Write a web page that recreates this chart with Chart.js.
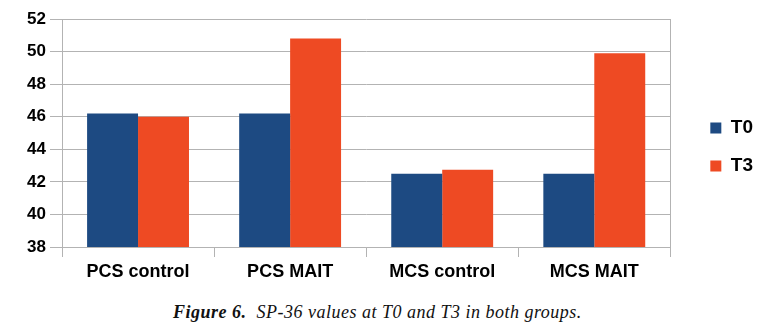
<!DOCTYPE html>
<html>
<head>
<meta charset="utf-8">
<script src="https://cdn.jsdelivr.net/npm/chart.js@4"></script>
<style>
  html, body { margin: 0; padding: 0; background: #fff; }
  #wrap { position: relative; width: 779px; height: 290px; }
  #caption {
    position: absolute; left: 173px; top: 302px;
    font-family: "Liberation Serif", "DejaVu Serif", serif; font-style: italic;
    font-size: 18px; letter-spacing: 0.5px; color: #111; white-space: pre;
  }
</style>
</head>
<body>
<div id="wrap"><canvas id="bars" width="779" height="290"></canvas></div>
<div id="caption"><b>Figure 6.</b>  SP-36 values at T0 and T3 in both groups.</div>
<script>
// data
const groups = ['PCS control', 'PCS MAIT', 'MCS control', 'MCS MAIT'];
const t0 = [46.2, 46.2, 42.5, 42.5];
const t3 = [46.0, 50.8, 42.75, 49.9];
const yTicks = [38, 40, 42, 44, 46, 48, 50, 52];

const bold = (size) => ({ family: 'Liberation Sans, Arial, sans-serif', size: size, weight: 'bold' });

new Chart(document.getElementById('bars'), {
  type: 'bar',
  data: {
    labels: groups,
    datasets: [
      { label: 'T0', data: t0, backgroundColor: '#1d4a82' },
      { label: 'T3', data: t3, backgroundColor: '#ee4a23' },
    ],
  },
  options: {
    responsive: false,
    animation: false,
    layout: { padding: { top: 19, left: 0, right: 16, bottom: 0 } },
    datasets: { bar: { categoryPercentage: 0.67, barPercentage: 1.0 } },
    plugins: {
      tooltip: { enabled: false },
      legend: {
        position: 'right',
        fullSize: false,
        title: { display: true, text: '', font: { size: 10 }, padding: { top: 8, bottom: 8 } },
        labels: { boxWidth: 11, boxHeight: 11, padding: 19, color: '#000', font: bold(19) },
      },
    },
    scales: {
      x: {
        grid: { color: '#b3b3b3', offset: true, tickLength: 10, drawOnChartArea: false },
        border: { color: '#b3b3b3' },
        ticks: { color: '#000', font: bold(18), padding: 4, maxRotation: 0 },
        afterFit(s) { s.height = 43; },
      },
      y: {
        min: 38, max: 52,
        afterBuildTicks(s) { s.ticks = yTicks.map(v => ({ value: v })); },
        grid: { color: '#b3b3b3', tickLength: 12 },
        border: { color: '#b3b3b3' },
        ticks: { color: '#000', font: bold(17), padding: 4 },
        afterFit(s) { s.width = 62; },
      },
      gap: {
        position: 'right', display: true,
        grid: { display: false }, border: { display: true, color: '#b3b3b3' }, ticks: { display: false },
        afterFit(s) { s.width = 21; },
      },
    },
  },
});
</script>
</body>
</html>
